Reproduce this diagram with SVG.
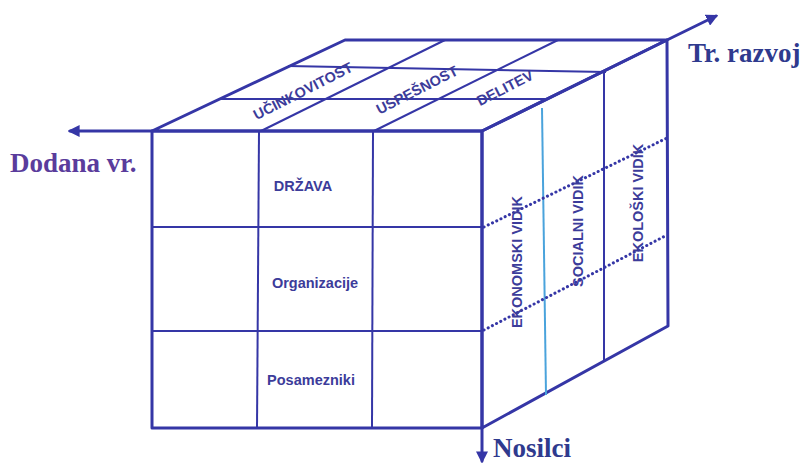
<svg xmlns="http://www.w3.org/2000/svg" width="805" height="465" viewBox="0 0 805 465">
<defs>
<style>
.edge{stroke:#3536a6;stroke-width:3;fill:none;stroke-linecap:round;stroke-linejoin:round}
.grid{stroke:#3536a6;stroke-width:2;fill:none}
.dot{stroke:#3536a6;stroke-width:3;fill:none;stroke-dasharray:0.1 4.6;stroke-linecap:round}
.lb{font-family:"Liberation Sans",Arial,sans-serif;font-weight:bold;font-size:14.5px;fill:#3c3c9a}
.ax{font-family:"Liberation Serif","Times New Roman",serif;font-weight:bold;font-size:27px}
</style>
<marker id="arr" viewBox="0 0 10 10" refX="8" refY="5" markerWidth="4" markerHeight="4" orient="auto">
<path d="M0,0 L10,5 L0,10 z" fill="#3536a6"/>
</marker>
</defs>
<rect width="805" height="465" fill="#ffffff"/>

<g id="connectors">
<line x1="152" y1="131" x2="70" y2="131" class="edge" marker-end="url(#arr)"/>
<line x1="667" y1="40" x2="716" y2="16" class="edge" marker-end="url(#arr)"/>
<line x1="482" y1="428" x2="482" y2="461" class="edge" marker-end="url(#arr)"/>
</g>

<g id="top-face">
<polygon points="152,131 345,40 667,40 482,131" class="edge"/>
<line x1="220" y1="99" x2="547" y2="99" class="grid"/>
<line x1="288" y1="66" x2="606" y2="72" class="grid"/>
<line x1="261" y1="131" x2="445" y2="40" class="grid"/>
<line x1="374" y1="131" x2="558" y2="40" class="grid"/>
<text class="lb" font-size="14" text-anchor="middle" dominant-baseline="central" transform="translate(303,91) rotate(-27)">UČINKOVITOST</text>
<text class="lb" font-size="14" text-anchor="middle" dominant-baseline="central" transform="translate(417,90) rotate(-27)">USPEŠNOST</text>
<text class="lb" font-size="14" text-anchor="middle" dominant-baseline="central" transform="translate(505,88) rotate(-27)">DELITEV</text>
</g>

<g id="right-face">
<polygon points="482,131 667,40 668,326 482,428" class="edge"/>
<line x1="604" y1="73" x2="604" y2="360" class="grid"/>
<line x1="542" y1="108" x2="546" y2="395" stroke="#4aa3dc" stroke-width="2"/>
<line x1="484" y1="227" x2="667" y2="138" class="dot"/>
<line x1="484" y1="330" x2="667" y2="235" class="dot"/>
<text class="lb" font-size="15" text-anchor="middle" dominant-baseline="central" transform="translate(517,262) rotate(-90)">EKONOMSKI VIDIK</text>
<text class="lb" font-size="15" text-anchor="middle" dominant-baseline="central" transform="translate(578,231) rotate(-90)">SOCIALNI VIDIK</text>
<text class="lb" font-size="15" text-anchor="middle" dominant-baseline="central" transform="translate(638,203) rotate(-90)">EKOLOŠKI VIDIK</text>
</g>

<g id="front-face">
<rect x="152" y="131" width="330" height="297" class="edge"/>
<line x1="259" y1="131" x2="257" y2="428" class="grid"/>
<line x1="373" y1="131" x2="372" y2="428" class="grid"/>
<line x1="152" y1="227" x2="482" y2="227" class="grid"/>
<line x1="152" y1="331" x2="482" y2="331" class="grid"/>
</g>

<g id="node-drzava"><text class="lb" x="303" y="186" text-anchor="middle" dominant-baseline="central">DRŽAVA</text></g>
<g id="node-organizacije"><text class="lb" x="315" y="283" text-anchor="middle" dominant-baseline="central">Organizacije</text></g>
<g id="node-posamezniki"><text class="lb" x="311" y="380" text-anchor="middle" dominant-baseline="central">Posamezniki</text></g>

<g id="axis-dodana"><text class="ax" x="10" y="172" fill="#5a3c9c">Dodana vr.</text></g>
<g id="axis-razvoj"><text class="ax" x="688" y="62" font-size="26" fill="#2f3a8e">Tr. razvoj</text></g>
<g id="axis-nosilci"><text class="ax" x="493" y="457" fill="#2f3a8e">Nosilci</text></g>
</svg>
